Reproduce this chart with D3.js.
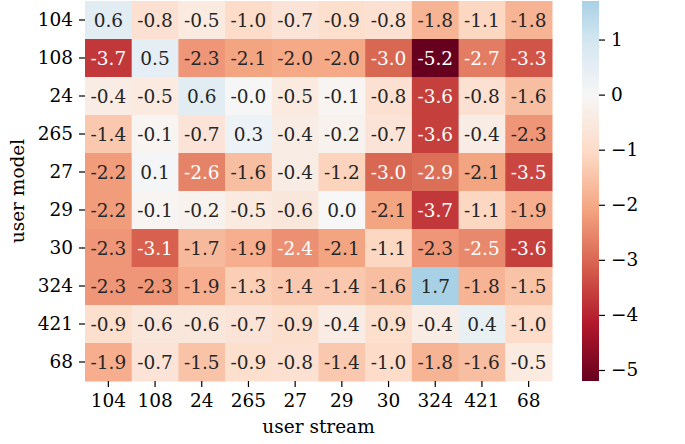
<!DOCTYPE html>
<html>
  <head>
  <meta charset="utf-8">
  <script src="https://cdnjs.cloudflare.com/ajax/libs/d3/7.8.5/d3.min.js"></script>
  <style>
    body { margin: 0; background: #fff; }
    text { font-family: "DejaVu Serif", serif; }
  </style>
  </head>
  <body>
    <div id="chart"></div>
	<script type="text/javascript">

		// rows = user model, columns = user stream
		var streams = ["104","108","24","265","27","29","30","324","421","68"];
		var models  = ["104","108","24","265","27","29","30","324","421","68"];

		var row104 = [ 0.6,-0.8,-0.5,-1.0,-0.7,-0.9,-0.8,-1.8,-1.1,-1.8];
		var row108 = [-3.7, 0.5,-2.3,-2.1,-2.0,-2.0,-3.0,-5.2,-2.7,-3.3];
		var row24  = [-0.4,-0.5, 0.6,-0.02,-0.5,-0.1,-0.8,-3.6,-0.8,-1.6];
		var row265 = [-1.4,-0.1,-0.7, 0.3,-0.4,-0.2,-0.7,-3.6,-0.4,-2.3];
		var row27  = [-2.2, 0.1,-2.6,-1.6,-0.4,-1.2,-3.0,-2.9,-2.1,-3.5];
		var row29  = [-2.2,-0.1,-0.2,-0.5,-0.6, 0.0,-2.1,-3.7,-1.1,-1.9];
		var row30  = [-2.3,-3.1,-1.7,-1.9,-2.4,-2.1,-1.1,-2.3,-2.5,-3.6];
		var row324 = [-2.3,-2.3,-1.9,-1.3,-1.4,-1.4,-1.6, 1.7,-1.8,-1.5];
		var row421 = [-0.9,-0.6,-0.6,-0.7,-0.9,-0.4,-0.9,-0.4, 0.4,-1.0];
		var row68  = [-1.9,-0.7,-1.5,-0.9,-0.8,-1.4,-1.0,-1.8,-1.6,-0.5];
		var rows = [row104,row108,row24,row265,row27,row29,row30,row324,row421,row68];

		var cbarTicks = [1,0,-1,-2,-3,-4,-5];

		// matplotlib RdBu segment colours
		var rdbu = ["#67001f","#b2182b","#d6604d","#f4a582","#fddbc7","#f7f7f7",
			"#d1e5f0","#92c5de","#4393c3","#2166ac","#053061"];

		var cells = [];
		rows.forEach(function(r,i){
			r.forEach(function(v,j){
				cells.push({model: models[i], stream: streams[j], value: v});
			});
		});

		var vmin = d3.min(cells, function(d){return d.value});
		var vmax = d3.max(cells, function(d){return d.value});
		var vrange = Math.max(vmax, -vmin);   // centred at 0, like seaborn

		var color = d3.scaleLinear()
			.domain(d3.range(rdbu.length).map(function(i){return -vrange + 2*vrange*i/(rdbu.length-1)}))
			.range(rdbu)
			.interpolate(d3.interpolateRgb)
			.clamp(true);

		function luminance(c){
			var rgb = d3.rgb(c);
			var f = function(x){ x = x/255; return x <= 0.03928 ? x/12.92 : Math.pow((x+0.055)/1.055, 2.4); };
			return 0.2126*f(rgb.r) + 0.7152*f(rgb.g) + 0.0722*f(rgb.b);
		}

		var W = 685, H = 444;
		var hmLeft = 85, hmRight = 552, hmTop = 1, hmBottom = 381;
		var fs = 18.5;

		var svg = d3.select("#chart").append("svg")
			.attr("width", W)
			.attr("height", H);

		var x = d3.scaleBand().domain(streams).range([hmLeft, hmRight]);
		var y = d3.scaleBand().domain(models).range([hmTop, hmBottom]);

		var g = svg.selectAll("g.cell")
			.data(cells)
			.enter()
			.append("g")
			.attr("class","cell");

		g.append("rect")
			.attr("x", function(d){return x(d.stream)})
			.attr("y", function(d){return y(d.model)})
			.attr("width", x.bandwidth() + 0.5)
			.attr("height", y.bandwidth() + 0.5)
			.attr("fill", function(d){return color(d.value)});

		g.append("text")
			.attr("x", function(d){return x(d.stream) + x.bandwidth()/2})
			.attr("y", function(d){return y(d.model) + y.bandwidth()/2})
			.attr("dy", "0.36em")
			.attr("text-anchor","middle")
			.style("font-size", fs + "px")
			.attr("fill", function(d){return luminance(color(d.value)) > 0.408 ? "#262626" : "#ffffff"})
			.text(function(d){return d.value.toFixed(1)});

		// axes
		var xAxis = d3.axisBottom(x).tickSize(6).tickPadding(7);
		var yAxis = d3.axisLeft(y).tickSize(6).tickPadding(6);

		var gx = svg.append("g").attr("transform","translate(0," + hmBottom + ")").call(xAxis);
		var gy = svg.append("g").attr("transform","translate(" + hmLeft + ",0)").call(yAxis);
		[gx, gy].forEach(function(a){
			a.select(".domain").remove();
			a.selectAll(".tick line").attr("stroke","#000").attr("stroke-width",1.2);
			a.selectAll(".tick text").attr("fill","#000").style("font-size", fs + "px")
				.style("font-family","DejaVu Serif");
		});

		svg.append("text")
			.attr("x", (hmLeft + hmRight)/2)
			.attr("y", 433)
			.attr("text-anchor","middle")
			.style("font-size", fs + "px")
			.text("user stream");

		svg.append("text")
			.attr("transform","translate(24," + (hmTop + hmBottom)/2 + ") rotate(-90)")
			.attr("text-anchor","middle")
			.style("font-size", fs + "px")
			.text("user model");

		// colorbar
		var cbLeft = 582, cbWidth = 17;
		var cy = d3.scaleLinear().domain([vmin, vmax]).range([hmBottom, hmTop]);

		var grad = svg.append("defs").append("linearGradient")
			.attr("id","cbgrad")
			.attr("x1","0").attr("y1","1").attr("x2","0").attr("y2","0");
		d3.range(0, 1.0001, 0.05).forEach(function(t){
			grad.append("stop")
				.attr("offset", t)
				.attr("stop-color", color(vmin + t*(vmax - vmin)));
		});

		svg.append("rect")
			.attr("x", cbLeft)
			.attr("y", hmTop)
			.attr("width", cbWidth)
			.attr("height", hmBottom - hmTop)
			.attr("fill","url(#cbgrad)");

		var cAxis = d3.axisRight(cy)
			.tickValues(cbarTicks)
			.tickSize(6).tickPadding(6)
			.tickFormat(function(d){return d < 0 ? "\u2212" + Math.abs(d) : String(d)});

		var gc = svg.append("g").attr("transform","translate(" + (cbLeft + cbWidth) + ",0)").call(cAxis);
		gc.select(".domain").remove();
		gc.selectAll(".tick line").attr("stroke","#000").attr("stroke-width",1.2);
		gc.selectAll(".tick text").attr("fill","#000").style("font-size", fs + "px")
			.style("font-family","DejaVu Serif");

	</script>
  </body>
</html>
